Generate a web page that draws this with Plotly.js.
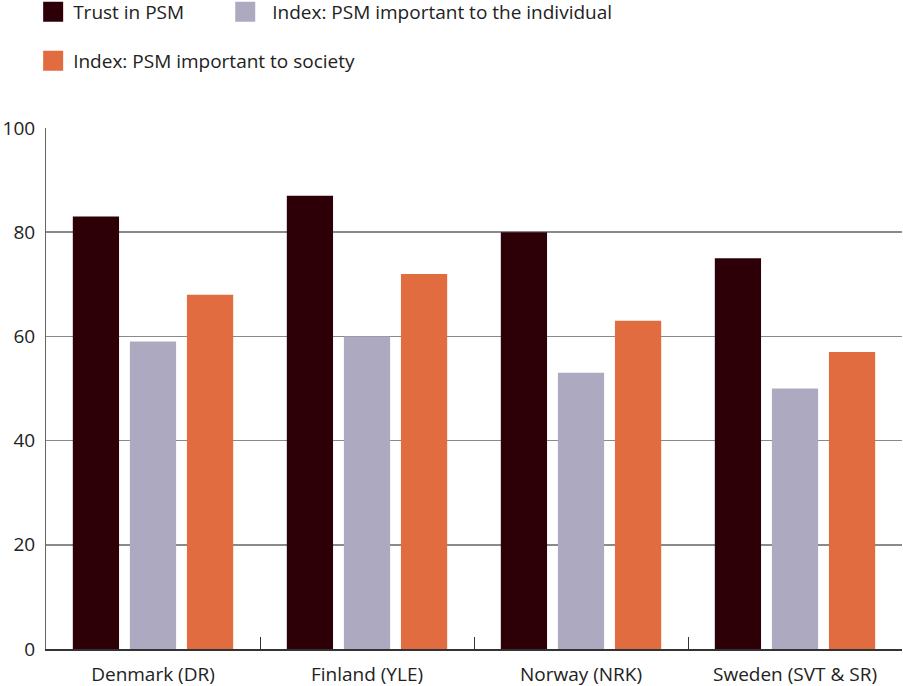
<!DOCTYPE html>
<html>
<head>
<meta charset="utf-8">
<script src="https://cdn.plot.ly/plotly-3.0.1.min.js"></script>
<style>
  html, body { margin: 0; padding: 0; background: #fff; }
  #chart { width: 903px; height: 686px; }
</style>
</head>
<body>
<div id="chart"></div>
<script>
// Broadcasters (one group per country)
var countries = ['Denmark (DR)', 'Finland (YLE)', 'Norway (NRK)', 'Sweden (SVT & SR)'];

// Series values
var trustInPSM = [83, 87, 80, 75];
var importantToIndividual = [59, 60, 53, 50];
var importantToSociety = [68, 72, 63, 57];

var seriesNames = ['Trust in PSM', 'Index: PSM important to the individual', 'Index: PSM important to society'];
var seriesColors = ['#2d0008', '#aca9c0', '#e06c40'];
var yTicks = [0, 20, 40, 60, 80, 100];

var FONT = '"Open Sans", "Noto Sans", sans-serif';
var FONT_SIZE = 19;

var allSeries = [trustInPSM, importantToIndividual, importantToSociety];

var traces = allSeries.map(function (vals, i) {
  return {
    type: 'bar',
    x: countries,
    y: vals,
    name: seriesNames[i],
    marker: { color: seriesColors[i], line: { width: 0 } },
    showlegend: false,
    hoverinfo: 'x+y+name'
  };
});

// Legend entries with larger square swatches, each placed in its own legend box
var legendIds = ['legend', 'legend2', 'legend3'];
seriesNames.forEach(function (name, i) {
  traces.push({
    type: 'scatter',
    mode: 'markers',
    x: [null],
    y: [null],
    name: name,
    legend: legendIds[i],
    marker: { symbol: 'square', size: 16, color: seriesColors[i], line: { width: 4, color: seriesColors[i] } },
    hoverinfo: 'skip'
  });
});

var legendCommon = {
  orientation: 'h',
  xref: 'paper', yref: 'container',
  xanchor: 'left', yanchor: 'middle',
  bgcolor: 'rgba(0,0,0,0)',
  borderwidth: 0,
  font: { family: FONT, size: FONT_SIZE, color: '#222' },
  itemclick: false, itemdoubleclick: false
};

var layout = {
  width: 903,
  height: 686,
  margin: { l: 46, r: 1, t: 128, b: 37 },
  paper_bgcolor: '#ffffff',
  plot_bgcolor: '#ffffff',
  font: { family: FONT, size: FONT_SIZE, color: '#222' },
  barmode: 'group',
  bargap: 0.2,
  bargroupgap: 0.19,
  xaxis: {
    type: 'category',
    showgrid: false,
    showline: true,
    linecolor: '#333',
    linewidth: 1.5,
    ticks: 'inside',
    tickson: 'boundaries',
    ticklen: 12,
    tickwidth: 1,
    tickcolor: '#333',
    tickfont: { family: FONT, size: FONT_SIZE, color: '#222' },
    ticklabelstandoff: 8,
    zeroline: false,
    fixedrange: true
  },
  yaxis: {
    range: [0, 100],
    tickvals: yTicks,
    ticktext: yTicks.map(String),
    showgrid: true,
    gridcolor: '#8a8a8a',
    gridwidth: 1.5,
    showline: true,
    linecolor: '#666',
    linewidth: 1,
    zeroline: false,
    ticks: '',
    ticklabelstandoff: 6,
    tickfont: { family: FONT, size: FONT_SIZE, color: '#222' },
    fixedrange: true
  },
  legend: Object.assign({}, legendCommon, { x: -0.015, y: 1 - 12 / 686 }),
  legend2: Object.assign({}, legendCommon, { x: 0.2012, y: 1 - 12 / 686, itemwidth: 44 }),
  legend3: Object.assign({}, legendCommon, { x: -0.015, y: 1 - 61 / 686 }),
  showlegend: true
};

Plotly.newPlot('chart', traces, layout, { displayModeBar: false, staticPlot: true });
</script>
</body>
</html>
